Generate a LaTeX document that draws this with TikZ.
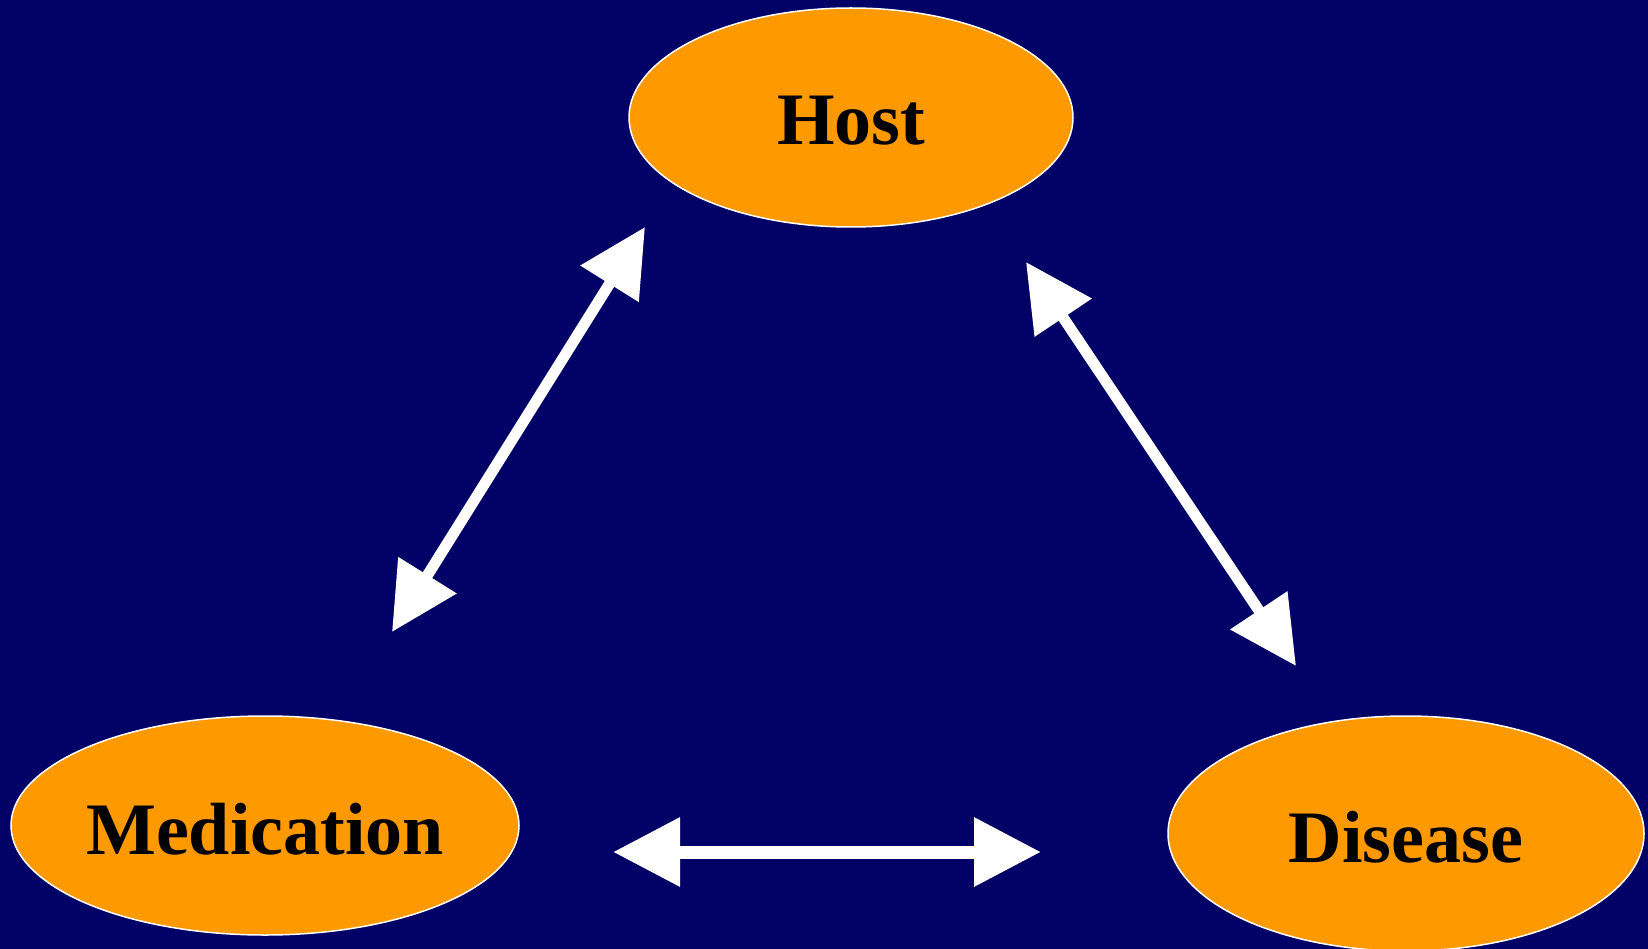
\documentclass[tikz,border=0pt]{standalone}
\usepackage{fontspec}
\setmainfont{Liberation Serif}
\usetikzlibrary{shapes.geometric,arrows.meta}
\definecolor{navybg}{RGB}{0,0,102}
\definecolor{orng}{RGB}{255,153,0}
\newcommand{\lowtxt}[1]{\raisebox{-3.5pt}[\height][\depth]{#1}}
\tikzset{
  blob/.style={ellipse, draw=white, line width=1.5pt, fill=orng, inner sep=0pt,
    font=\fontsize{74}{82}\selectfont\bfseries, text=black},
  dbl/.style={white, line width=11pt,
    {Triangle[length=67pt,width=66pt]}-{Triangle[length=67pt,width=66pt]}},
  dblh/.style={white, line width=13pt,
    {Triangle[length=67pt,width=66pt]}-{Triangle[length=67pt,width=66pt]}}
}
\begin{document}
\begin{tikzpicture}[x=1pt,y=-1pt]
\fill[navybg] (0,0) rectangle (1648,949);
\useasboundingbox (0,0) rectangle (1648,949);
\node[blob, minimum width=444pt, minimum height=219pt] (host) at (851,117.5) {\lowtxt{Host}};
\node[blob, minimum width=508pt, minimum height=219pt] (med) at (265,825.5) {\lowtxt{Medication}};
\node[blob, minimum width=476pt, minimum height=235pt] (dis) at (1406,833.5) {\lowtxt{Disease}};
\coordinate (hl) at (645,227);
\coordinate (ml) at (392,632);
\coordinate (hr) at (1026,262);
\coordinate (dr) at (1296,666);
\coordinate (mb) at (613,852);
\coordinate (db) at (1041,852);
\draw[dbl] (ml) -- (hl);
\draw[dbl] (hr) -- (dr);
\draw[dblh] (mb) -- (db);
\end{tikzpicture}
\end{document}
